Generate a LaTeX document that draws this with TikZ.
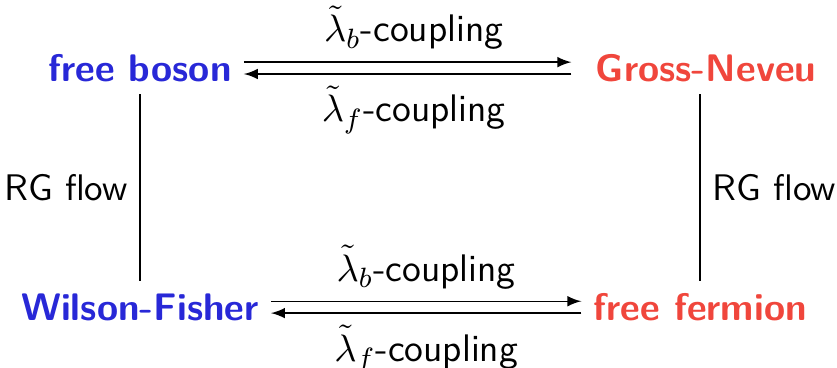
\documentclass[tikz,border=0pt]{standalone}
\usepackage{amsmath}
\usetikzlibrary{arrows}
\definecolor{bosonblue}{RGB}{40,40,215}
\definecolor{fermionred}{RGB}{240,70,60}
\newcommand{\lamb}{$\tilde{\lambda}_b$-coupling}
\newcommand{\lamf}{$\tilde{\lambda}_f$-coupling}

\begin{document}
\begin{tikzpicture}[x=1pt,y=1pt,
    font=\fontsize{11}{13}\selectfont\sffamily,
    boson/.style={font=\fontsize{11}{13}\selectfont\sffamily\bfseries,color=bosonblue},
    fermion/.style={font=\fontsize{11}{13}\selectfont\sffamily\bfseries,color=fermionred},
    flow/.style={font=\fontsize{10.6}{12}\selectfont\sffamily},
    coupling/.style={-latex,thin},
    every node/.style={inner sep=3.33pt}]
    \useasboundingbox (0,0) rectangle (239.8,105.4);

    \node[boson]   (fb) at (40.1,85.9)  {free boson};
    \node[fermion] (gn) at (202.3,85.9) {Gross-Neveu};
    \node[boson]   (wf) at (40.1,17.4)  {Wilson-Fisher};
    \node[fermion] (ff) at (200.6,17.4) {free fermion};

    % couplings
    \draw[coupling,shorten >=3.5pt] ([yshift=1.7pt]fb.east) -- node[above] {\lamb} ([yshift=1.7pt]gn.west);
    \draw[coupling,shorten <=3.5pt] ([yshift=-1.7pt]gn.west) -- node[below] {\lamf} ([yshift=-1.7pt]fb.east);
    \draw[coupling] ([yshift=1.7pt]wf.east) -- node[above] {\lamb} ([yshift=1.7pt]ff.west);
    \draw[coupling] ([yshift=-1.7pt]ff.west) -- node[below] {\lamf} ([yshift=-1.7pt]wf.east);

    % RG flows
    \draw[thin] (fb.south) -- node[left,flow] {RG flow} (wf.north);
    \draw[thin] (gn.south -| ff.north) -- node[right,flow] {RG flow} (ff.north);

\end{tikzpicture}
\end{document}
